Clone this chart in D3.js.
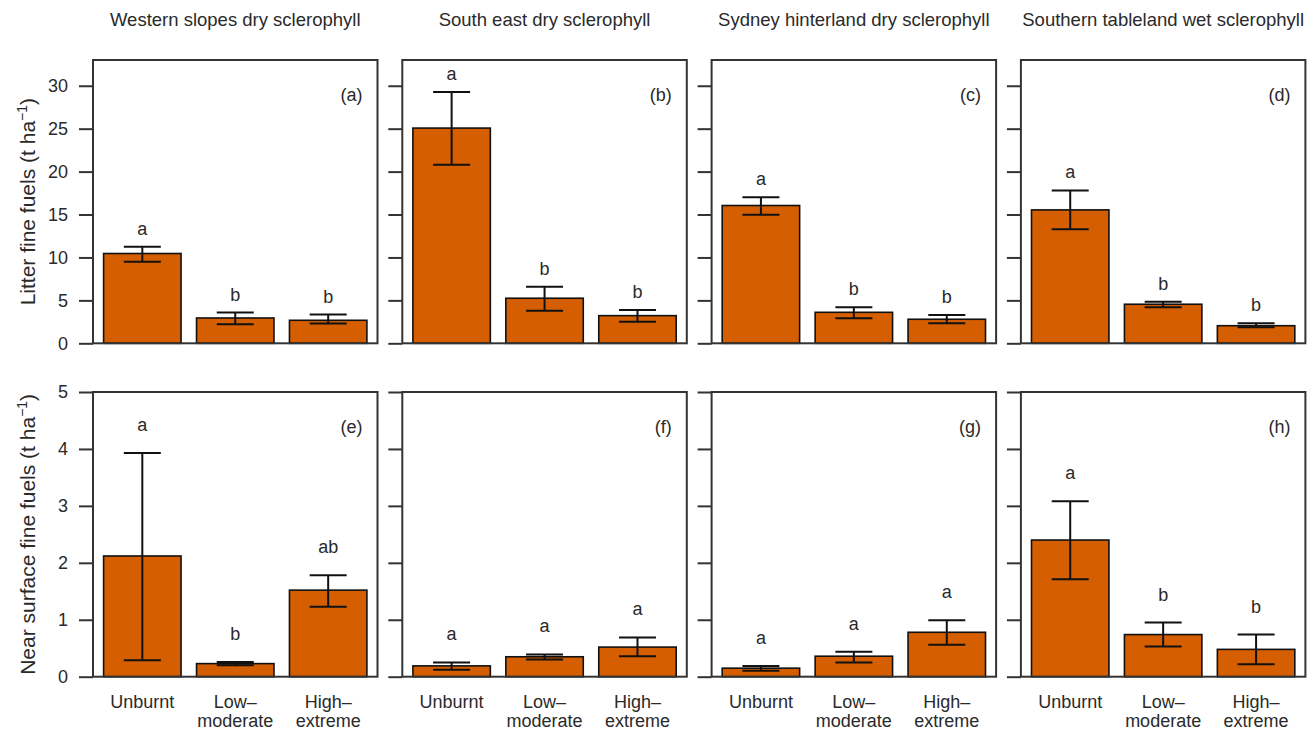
<!DOCTYPE html>
<meta charset="utf-8">
<script src="https://d3js.org/d3.v7.min.js"></script>
<style>
  body {margin:0; background:#fff;}
  text {font-family:"Liberation Sans",Arial,sans-serif; fill:#2a2a2a;}
</style>
<svg id="fig" width="1313" height="735"></svg>
<script>
// ---- data ----
const regions = ['Western slopes dry sclerophyll','South east dry sclerophyll',
                 'Sydney hinterland dry sclerophyll','Southern tableland wet sclerophyll'];
const severity = ['Unburnt','Low–|moderate','High–|extreme'];
const panelTags = [['(a)','(b)','(c)','(d)'],['(e)','(f)','(g)','(h)']];

// litter fine fuels (t/ha): mean, lower, upper
const litterMean = [[10.46,2.95,2.68],[25.07,5.25,3.22],[16.05,3.61,2.80],[15.54,4.55,2.05]];
const litterLo   = [[9.49,2.22,2.30],[20.79,3.80,2.52],[14.96,2.91,2.33],[13.29,4.20,1.87]];
const litterHi   = [[11.24,3.58,3.35],[29.27,6.60,3.88],[17.02,4.20,3.30],[17.80,4.85,2.33]];
const litterSig  = [['a','b','b'],['a','b','b'],['a','b','b'],['a','b','b']];

// near surface fine fuels (t/ha)
const nearMean = [[2.12,0.23,1.52],[0.19,0.35,0.52],[0.15,0.36,0.78],[2.40,0.74,0.48]];
const nearLo   = [[0.29,0.20,1.23],[0.12,0.30,0.36],[0.105,0.25,0.56],[1.71,0.53,0.22]];
const nearHi   = [[3.93,0.26,1.78],[0.25,0.39,0.69],[0.19,0.44,0.99],[3.08,0.95,0.74]];
const nearSig  = [['a','b','ab'],['a','a','a'],['a','a','a'],['a','b','b']];

const litterTicks = [0,5,10,15,20,25,30];
const nearTicks = [0,1,2,3,4,5];

const rows = [
  {mean:litterMean, lo:litterLo, hi:litterHi, sig:litterSig, ticks:litterTicks,
   ymax:33, top:60, bottom:343.3, label:'Litter fine fuels (t ha', sigOff:12},
  {mean:nearMean, lo:nearLo, hi:nearHi, sig:nearSig, ticks:nearTicks,
   ymax:5, top:392, bottom:676.7, label:'Near surface fine fuels (t ha', sigOff:22}
];

const svg = d3.select('#fig');
const fill = '#d55e00';
const pw = 284.5, pstep = 309.3, left0 = 93;

rows.forEach(function(row, r) {
  const y = d3.scaleLinear().domain([0,row.ymax]).range([row.bottom,row.top]);
  regions.forEach(function(reg, p) {
    const x0 = left0 + p*pstep;
    const x = d3.scaleBand().domain(d3.range(3)).range([x0,x0+pw])
                .paddingInner(1/6).paddingOuter(0.114);
    const g = svg.append('g');

    if (r===0) {
      g.append('text').attr('x',x0+pw/2).attr('y',26)
       .attr('text-anchor','middle').style('font-size','18.5px').text(reg);
    }

    // y axis ticks
    const ax = g.append('g').attr('transform','translate('+x0+',0)')
      .call(d3.axisLeft(y).tickValues(row.ticks).tickSize(14)
              .tickFormat(p===0 ? d3.format('d') : ''));
    ax.select('.domain').remove();
    ax.selectAll('line').attr('stroke','#333').attr('stroke-width',2);
    ax.selectAll('text').style('font-size','18px').attr('x',-25)
      .style('fill','#2a2a2a').style('font-family','"Liberation Sans",Arial,sans-serif');

    const cx = function(i){ return x(i)+x.bandwidth()/2; };

    g.selectAll('rect.bar').data(row.mean[p]).join('rect').attr('class','bar')
     .attr('x',function(d,i){return x(i);}).attr('width',x.bandwidth())
     .attr('y',function(d){return y(d);})
     .attr('height',function(d){return y(0)-y(d);})
     .attr('fill',fill).attr('stroke','#111').attr('stroke-width',1.6);

    // error bars
    const cap = 18.5;
    d3.range(3).forEach(function(i) {
      const lo = y(row.lo[p][i]), hi = y(row.hi[p][i]), c = cx(i);
      g.append('line').attr('x1',c).attr('x2',c).attr('y1',lo).attr('y2',hi)
       .attr('stroke','#111').attr('stroke-width',2);
      [lo,hi].forEach(function(v){
        g.append('line').attr('x1',c-cap).attr('x2',c+cap).attr('y1',v).attr('y2',v)
         .attr('stroke','#111').attr('stroke-width',2);
      });
      g.append('text').attr('x',c).attr('y',hi-row.sigOff)
       .attr('text-anchor','middle').style('font-size','18px').text(row.sig[p][i]);
    });

    // frame
    g.append('rect').attr('x',x0).attr('y',row.top).attr('width',pw)
     .attr('height',row.bottom-row.top).attr('fill','none')
     .attr('stroke','#333').attr('stroke-width',2);

    g.append('text').attr('x',x0+pw-15).attr('y',row.top+41)
     .attr('text-anchor','end').style('font-size','18px').text(panelTags[r][p]);

    if (r===1) {
      severity.forEach(function(s, i) {
        const parts = s.split('|');
        parts.forEach(function(t, k) {
          g.append('text').attr('x',cx(i)).attr('y',708+k*19)
           .attr('text-anchor','middle').style('font-size','18px').text(t);
        });
      });
    }
  });

  // y label
  const cy = (row.top+row.bottom)/2;
  const t = svg.append('text').attr('transform','translate(35,'+cy+') rotate(-90)')
     .attr('text-anchor','middle').style('font-size','21px');
  t.append('tspan').text(row.label);
  t.append('tspan').attr('dy',-8).style('font-size','14px').text('−1');
  t.append('tspan').attr('dy',8).text(')');
});
</script>
